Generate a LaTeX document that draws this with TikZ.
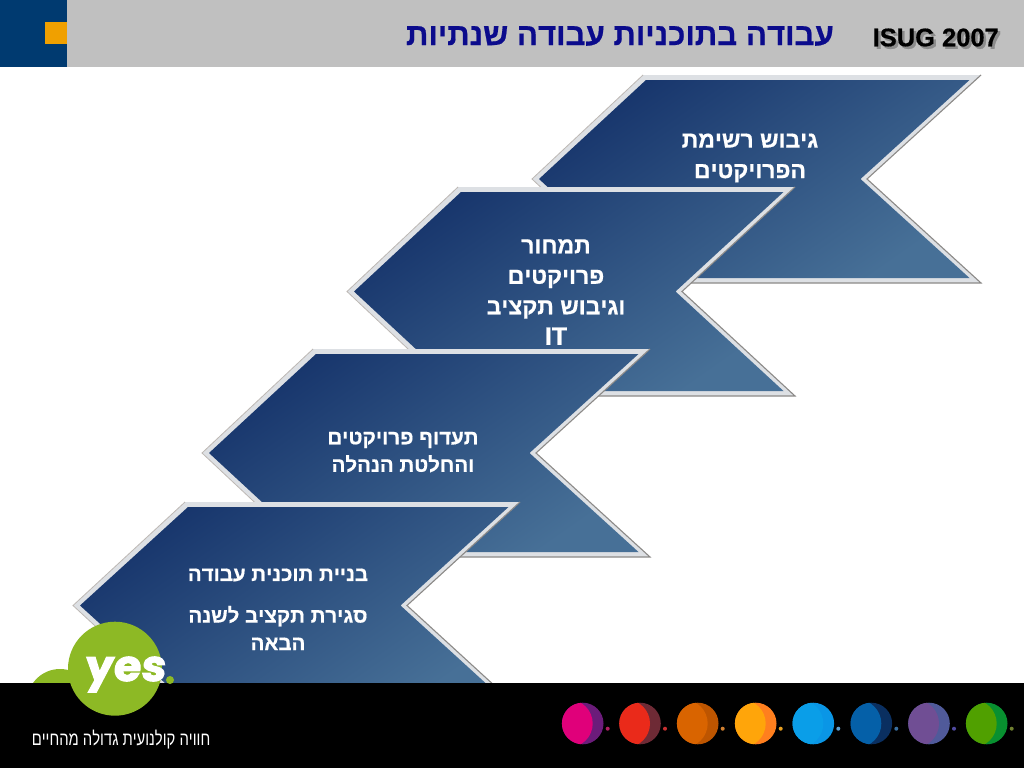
\documentclass[tikz,border=0pt]{standalone}
\usepackage{fontspec}
\setmainfont[BoldFeatures={FakeBold=0.6}]{Liberation Sans}
\newfontfamily\logofont[BoldFeatures={FakeBold=2.2,FakeSlant=0.08}]{Poppins}
\TeXXeTstate=1
\definecolor{hdrgray}{HTML}{C0C0C0}
\definecolor{hdrblue}{HTML}{003A70}
\definecolor{hdrorange}{HTML}{F0A000}
\definecolor{titleblue}{HTML}{0B0B8C}
\definecolor{chevdark}{HTML}{17356C}
\definecolor{chevlight}{HTML}{477097}
\definecolor{bevband}{HTML}{DDE0E4}
\definecolor{bevdark}{HTML}{8C8A88}
\definecolor{bevsoft}{HTML}{BDB8B4}
\definecolor{yesgreen}{HTML}{8DB925}
\tikzset{
  chevtext/.style={text=white,font=\bfseries\fontsize{23}{30.5}\selectfont,align=center,inner sep=0pt},
  chevsmall/.style={chevtext,font=\bfseries\fontsize{20.5}{27.5}\selectfont},
}
% #1 left-tip x, #2 centre y, #3 half height, #4 top-left x, #5 right x, #6 notch x
\newcommand{\chevron}[6]{%
  \begin{scope}
  \coordinate (a) at (#4,#2-#3);
  \coordinate (b) at (#5,#2-#3);
  \coordinate (c) at (#6,#2);
  \coordinate (d) at (#5,#2+#3);
  \coordinate (e) at (#4,#2+#3);
  \coordinate (f) at (#1,#2);
  \coordinate (ai) at (#4+3,#2-#3+5);
  \coordinate (bi) at (#5-11.5,#2-#3+5);
  \coordinate (ci) at (#6-6.5,#2);
  \coordinate (di) at (#5-11.5,#2+#3-5);
  \coordinate (ei) at (#4+3,#2+#3-5);
  \coordinate (fi) at (#1+7,#2);
  \fill[bevband] (a)--(b)--(c)--(d)--(e)--(f)--cycle;
  \draw[bevsoft,line width=0.8pt] (e)--(f)--(a);
  \draw[bevdark,line width=1.1pt] (b)--(c)--(d)--(e);
  \shade[top color=chevdark,bottom color=chevlight,shading angle=35]
     (ai)--(bi)--(ci)--(di)--(ei)--(fi)--cycle;
  \end{scope}}
% #1 x, #2 back colour, #3 front colour, #4 dot colour
\newcommand{\planet}[4]{%
  \definecolor{pback}{HTML}{#2}\definecolor{pfront}{HTML}{#3}\definecolor{pdot}{HTML}{#4}%
  \begin{scope}
    \fill[pback] (#1,723.5) circle[radius=20.8];
    \clip (#1,723.5) circle[radius=20.8];
    \fill[pfront] (#1-14,723.5) circle[radius=24];
  \end{scope}
  \fill[pdot] (#1+25,728.7) circle[radius=2];}
\begin{document}
\begin{tikzpicture}[x=1pt,y=-1pt]
\useasboundingbox (0,0) rectangle (1024,768);
\fill[white] (0,0) rectangle (1024,768);
% header
\fill[hdrgray] (0,0) rectangle (1024,67);
\fill[hdrblue] (0,0) rectangle (67,67);
\fill[hdrorange] (45,22) rectangle (67,44);
\node[anchor=east,inner sep=0pt,text=titleblue,font=\bfseries\fontsize{31.2}{34}\selectfont] (title) at (834,36) {\beginR עבודה בתוכניות עבודה שנתיות\endR};
\node[anchor=east,inner sep=0pt,text=black!45,font=\bfseries\fontsize{25.5}{30}\selectfont] (isugshadow) at (1001.5,40) {ISUG 2007};
\node[anchor=east,inner sep=0pt,text=black,font=\bfseries\fontsize{25.5}{30}\selectfont] (isug) at (999,37.5) {ISUG 2007};
% chevrons
\chevron{532}{179}{104}{643}{981}{867}
\chevron{347}{291.5}{104.5}{458}{795}{682}
\chevron{202}{453}{104}{313}{650}{536}
\chevron{73}{605.5}{103.5}{185}{520}{407}
\node[chevtext] (t1) at (750,158) {\beginR גיבוש רשימת\endR\\\beginR הפרויקטים\endR};
\node[chevtext] (t2) at (556,292) {\beginR תמחור\endR\\\beginR פרויקטים\endR\\\beginR וגיבוש תקציב\endR\\{\fontsize{25}{30.5}\selectfont IT}};
\node[chevsmall] (t3) at (403,452) {\beginR תעדוף פרויקטים\endR\\\beginR והחלטת הנהלה\endR};
\node[chevsmall] (t4) at (278,575) {\beginR בניית תוכנית עבודה\endR};
\node[chevsmall] (t5) at (278,628) {\beginR סגירת תקציב לשנה\endR\\\beginR הבאה\endR};
% back logo circle, footer
\fill[yesgreen] (60,702) circle[radius=33];
\fill[black] (0,683) rectangle (1024,768);
% logo
\node[circle,fill=yesgreen,minimum size=94pt,inner sep=0pt] (logo) at (115,668.7) {};
\fill[yesgreen] (170,680) circle[radius=4];
\node[anchor=base,inner sep=0pt,text=white,font=\logofont\bfseries\fontsize{43}{43}\selectfont] (yes) at (125,681) {\scalebox{1.04}[1]{yes}};
\node[inner sep=0pt,text=white,font=\fontsize{19}{22}\selectfont] (slogan) at (121,740) {\scalebox{0.78}[1]{\beginR חוויה קולנועית גדולה מהחיים\endR}};
% planets
\planet{582.7}{6B1C7A}{E0007A}{B02060}
\planet{640}{6E2A35}{EA2A1A}{C83030}
\planet{697.7}{BD5500}{D96400}{D08030}
\planet{755.7}{FF7F1E}{FFA50A}{E8A020}
\planet{813.3}{0A96E6}{0A9EE8}{60A0D0}
\planet{871.3}{0A2F60}{0560A8}{3A70A0}
\planet{929}{505A9A}{704E94}{504AA0}
\planet{986.7}{089030}{50A000}{708030}
\end{tikzpicture}
\end{document}
